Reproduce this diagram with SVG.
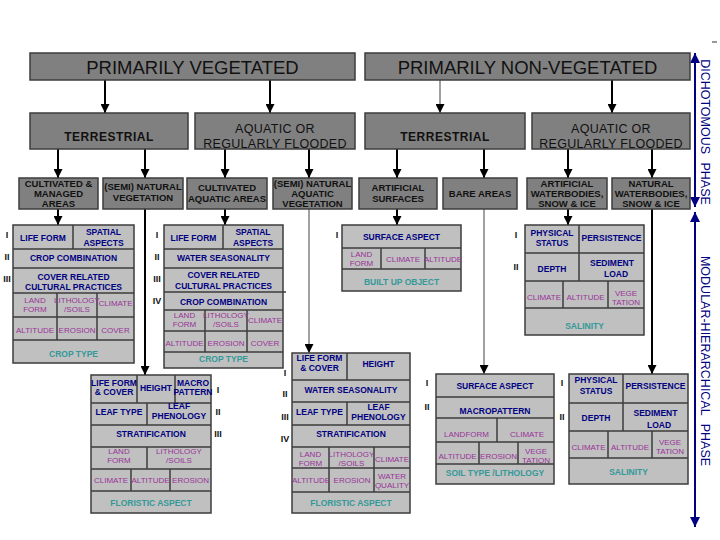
<svg xmlns="http://www.w3.org/2000/svg" width="720" height="540" viewBox="0 0 720 540">
<defs>
<style>
.bx{fill:#808080;stroke:#3c3c3c;stroke-width:1.5}
.md{fill:#c0c0c0;stroke:#3c3c3c;stroke-width:1.5}
.ln{stroke:#3c3c3c;stroke-width:1.5;fill:none}
text{font-family:"Liberation Sans",Arial,sans-serif;text-anchor:middle}
.t1{font-size:18.5px;fill:#111}
.t2{font-size:12px;font-weight:bold;letter-spacing:0.5px;fill:#111}
.t2r{font-size:12.5px;fill:#111;letter-spacing:0.3px}
.t3{font-size:9.5px;font-weight:bold;fill:#111}
.h{font-size:8.5px;font-weight:bold;fill:#000080}
.p{font-size:8px;fill:#993399}
.c{font-size:8.5px;font-weight:bold;fill:#339999}
.n{font-size:9px;font-weight:bold;fill:#111}
.ph{font-size:12.5px;fill:#000080;word-spacing:5px;text-anchor:middle}
.ar{stroke:#000;stroke-width:2;fill:none;marker-end:url(#ah)}
.ag{stroke:#808080;stroke-width:1.5;fill:none;marker-end:url(#ah)}
.bl{stroke:#000080;stroke-width:2;fill:none;marker-start:url(#bh);marker-end:url(#bh)}
</style>
<marker id="ah" viewBox="0 0 10 10" refX="10" refY="5" markerWidth="9" markerHeight="9" markerUnits="userSpaceOnUse" orient="auto"><path d="M0,0 L10,5 L0,10z" fill="#000"/></marker>
<marker id="bh" viewBox="0 0 10 10" refX="10" refY="5" markerWidth="10" markerHeight="10" markerUnits="userSpaceOnUse" orient="auto-start-reverse"><path d="M0,0 L10,5 L0,10z" fill="#000080"/></marker>
</defs>
<rect width="720" height="540" fill="#fff"/>

<g id="connectors">
<line class="ar" x1="105" y1="80" x2="105" y2="113"/>
<line class="ar" x1="270" y1="80" x2="270" y2="113"/>
<line class="ag" x1="440" y1="80" x2="440" y2="113"/>
<line class="ar" x1="612" y1="80" x2="612" y2="113"/>
<line class="ar" x1="58" y1="149" x2="58" y2="178"/>
<line class="ar" x1="145" y1="149" x2="145" y2="178"/>
<line class="ar" x1="225" y1="149" x2="225" y2="178"/>
<line class="ar" x1="309" y1="149" x2="309" y2="178"/>
<line class="ar" x1="397" y1="149" x2="397" y2="178"/>
<line class="ar" x1="484" y1="149" x2="484" y2="178"/>
<line class="ar" x1="568" y1="149" x2="568" y2="178"/>
<line class="ar" x1="652" y1="149" x2="652" y2="178"/>
<line class="ar" x1="58" y1="209" x2="58" y2="225"/>
<line class="ar" x1="145" y1="209" x2="145" y2="375"/>
<line class="ar" x1="225" y1="209" x2="225" y2="225"/>
<line class="ag" x1="309" y1="209" x2="309" y2="353"/>
<line class="ar" x1="397" y1="209" x2="397" y2="225"/>
<line class="ag" x1="484" y1="209" x2="484" y2="374"/>
<line class="ar" x1="568" y1="209" x2="568" y2="225"/>
<line class="ar" x1="652" y1="209" x2="652" y2="374"/>
<line class="bl" x1="695" y1="53" x2="695" y2="207"/>
<line class="bl" x1="695" y1="212" x2="695" y2="527"/>
<line x1="712" y1="42" x2="717" y2="42" stroke="#333" stroke-width="1"/>
</g>

<g id="phase-dichotomous">
<text class="ph" transform="translate(701,132) rotate(90)">DICHOTOMOUS PHASE</text>
</g>
<g id="phase-modular">
<text class="ph" transform="translate(701,361) rotate(90)">MODULAR-HIERARCHICAL PHASE</text>
</g>

<g id="primarily-vegetated">
<rect class="bx" x="30" y="53" width="325" height="27"/>
<text class="t1" x="192.5" y="74">PRIMARILY VEGETATED</text>
</g>
<g id="primarily-non-vegetated">
<rect class="bx" x="365" y="53" width="325" height="27"/>
<text class="t1" x="527.5" y="74">PRIMARILY NON-VEGETATED</text>
</g>

<g id="veg-terrestrial">
<rect class="bx" x="30" y="113" width="158" height="36"/>
<text class="t2" x="109" y="141">TERRESTRIAL</text>
</g>
<g id="veg-aquatic">
<rect class="bx" x="195" y="113" width="160" height="36"/>
<text class="t2r" x="275" y="133">AQUATIC OR</text>
<text class="t2r" x="275" y="148">REGULARLY FLOODED</text>
</g>
<g id="nonveg-terrestrial">
<rect class="bx" x="365" y="113" width="160" height="36"/>
<text class="t2" x="445" y="141">TERRESTRIAL</text>
</g>
<g id="nonveg-aquatic">
<rect class="bx" x="532" y="113" width="158" height="36"/>
<text class="t2r" x="611" y="133">AQUATIC OR</text>
<text class="t2r" x="611" y="148">REGULARLY FLOODED</text>
</g>

<g id="cultivated-managed">
<rect class="bx" x="19" y="178" width="79" height="31"/>
<text class="t3" x="58.5" y="187">CULTIVATED &amp;</text>
<text class="t3" x="58.5" y="197">MANAGED</text>
<text class="t3" x="58.5" y="207">AREAS</text>
</g>
<g id="semi-natural-vegetation">
<rect class="bx" x="103" y="178" width="80" height="31"/>
<text class="t3" x="143" y="190">(SEMI) NATURAL</text>
<text class="t3" x="143" y="201">VEGETATION</text>
</g>
<g id="cultivated-aquatic">
<rect class="bx" x="187" y="178" width="80" height="31"/>
<text class="t3" x="227" y="191">CULTIVATED</text>
<text class="t3" x="227" y="202">AQUATIC AREAS</text>
</g>
<g id="semi-natural-aquatic">
<rect class="bx" x="273" y="178" width="79" height="31"/>
<text class="t3" x="312.5" y="187">(SEMI) NATURAL</text>
<text class="t3" x="312.5" y="197">AQUATIC</text>
<text class="t3" x="312.5" y="207">VEGETATION</text>
</g>
<g id="artificial-surfaces">
<rect class="bx" x="359" y="178" width="78" height="31"/>
<text class="t3" x="398" y="191">ARTIFICIAL</text>
<text class="t3" x="398" y="202">SURFACES</text>
</g>
<g id="bare-areas">
<rect class="bx" x="443" y="178" width="74" height="31"/>
<text class="t3" x="480" y="197">BARE AREAS</text>
</g>
<g id="artificial-waterbodies">
<rect class="bx" x="527" y="178" width="80" height="31"/>
<text class="t3" x="567" y="187">ARTIFICIAL</text>
<text class="t3" x="567" y="197">WATERBODIES,</text>
<text class="t3" x="567" y="207">SNOW &amp; ICE</text>
</g>
<g id="natural-waterbodies">
<rect class="bx" x="612" y="178" width="78" height="31"/>
<text class="t3" x="651" y="187">NATURAL</text>
<text class="t3" x="651" y="197">WATERBODIES,</text>
<text class="t3" x="651" y="207">SNOW &amp; ICE</text>
</g>

<g id="block-cultivated-managed">
<rect class="md" x="13" y="225" width="121" height="138"/>
<path class="ln" d="M13,249H134M13,268H134M13,293H134M13,317H134M13,340H134M73,225V249M57,293V340M97,293V340"/>
<text class="h" x="43" y="241">LIFE FORM</text>
<text class="h" x="103.5" y="235">SPATIAL</text>
<text class="h" x="103.5" y="246">ASPECTS</text>
<text class="h" x="73.5" y="261">CROP COMBINATION</text>
<text class="h" x="73.5" y="280">COVER RELATED</text>
<text class="h" x="73.5" y="290">CULTURAL PRACTICES</text>
<text class="p" x="35" y="303">LAND</text>
<text class="p" x="35" y="312">FORM</text>
<text class="p" x="77" y="303">LITHOLOGY</text>
<text class="p" x="77" y="312">/SOILS</text>
<text class="p" x="115.5" y="306">CLIMATE</text>
<text class="p" x="35" y="333">ALTITUDE</text>
<text class="p" x="77" y="333">EROSION</text>
<text class="p" x="115.5" y="333">COVER</text>
<text class="c" x="73.5" y="357">CROP TYPE</text>
<text class="n" x="7" y="238">I</text>
<text class="n" x="7" y="260">II</text>
<text class="n" x="7" y="282">III</text>
</g>

<g id="block-cultivated-aquatic">
<rect class="md" x="164" y="225" width="119" height="143"/>
<path class="ln" d="M164,249H283M164,268H283M164,292H286M164,310H283M164,331H283M164,352H283M223,225V249M205,310V352M247,310V352"/>
<text class="h" x="193.5" y="241">LIFE FORM</text>
<text class="h" x="253" y="235">SPATIAL</text>
<text class="h" x="253" y="246">ASPECTS</text>
<text class="h" x="223.5" y="261">WATER SEASONALITY</text>
<text class="h" x="223.5" y="278">COVER RELATED</text>
<text class="h" x="223.5" y="289">CULTURAL PRACTICES</text>
<text class="h" x="223.5" y="305">CROP COMBINATION</text>
<text class="p" x="184.5" y="318">LAND</text>
<text class="p" x="184.5" y="327">FORM</text>
<text class="p" x="226" y="318">LITHOLOGY</text>
<text class="p" x="226" y="327">/SOILS</text>
<text class="p" x="265" y="323">CLIMATE</text>
<text class="p" x="184.5" y="346">ALTITUDE</text>
<text class="p" x="226" y="346">EROSION</text>
<text class="p" x="265" y="346">COVER</text>
<text class="c" x="223.5" y="362">CROP TYPE</text>
<text class="n" x="157" y="238">I</text>
<text class="n" x="157" y="260">II</text>
<text class="n" x="157" y="282">III</text>
<text class="n" x="157" y="304">IV</text>
</g>

<g id="block-natural-vegetation">
<rect class="md" x="91" y="375" width="120" height="138"/>
<path class="ln" d="M91,403H211M91,425H211M91,447H211M91,469H211M91,491H211M137,375V403M175,375V403M147,403V425M147,447V469M131,469V491M170,469V491"/>
<text class="h" x="114" y="386">LIFE FORM</text>
<text class="h" x="114" y="395">&amp; COVER</text>
<text class="h" x="156" y="391">HEIGHT</text>
<text class="h" x="193" y="386">MACRO</text>
<text class="h" x="193" y="395">PATTERN</text>
<text class="h" x="119" y="415">LEAF TYPE</text>
<text class="h" x="179" y="409">LEAF</text>
<text class="h" x="179" y="419">PHENOLOGY</text>
<text class="h" x="151" y="437">STRATIFICATION</text>
<text class="p" x="119" y="454">LAND</text>
<text class="p" x="119" y="463">FORM</text>
<text class="p" x="179" y="454">LITHOLOGY</text>
<text class="p" x="179" y="463">/SOILS</text>
<text class="p" x="111" y="483">CLIMATE</text>
<text class="p" x="150.5" y="483">ALTITUDE</text>
<text class="p" x="190.5" y="483">EROSION</text>
<text class="c" x="151" y="506">FLORISTIC ASPECT</text>
<text class="n" x="218" y="393">I</text>
<text class="n" x="218" y="415">II</text>
<text class="n" x="218" y="437">III</text>
</g>

<g id="block-natural-aquatic">
<rect class="md" x="292" y="353" width="118" height="160"/>
<path class="ln" d="M292,380H410M292,402H410M292,425H410M292,447H410M292,468H410M292,492H410M347,353V380M347,402V425M329,447V492M374,447V492"/>
<text class="h" x="319.5" y="361">LIFE FORM</text>
<text class="h" x="319.5" y="371">&amp; COVER</text>
<text class="h" x="378.5" y="367">HEIGHT</text>
<text class="h" x="351" y="393">WATER SEASONALITY</text>
<text class="h" x="319.5" y="415">LEAF TYPE</text>
<text class="h" x="378.5" y="410">LEAF</text>
<text class="h" x="378.5" y="420">PHENOLOGY</text>
<text class="h" x="351" y="437">STRATIFICATION</text>
<text class="p" x="310.5" y="457">LAND</text>
<text class="p" x="310.5" y="466">FORM</text>
<text class="p" x="351.5" y="457">LITHOLOGY</text>
<text class="p" x="351.5" y="466">/SOILS</text>
<text class="p" x="392" y="462">CLIMATE</text>
<text class="p" x="311" y="483">ALTITUDE</text>
<text class="p" x="352" y="483">EROSION</text>
<text class="p" x="392" y="479">WATER</text>
<text class="p" x="392" y="488">QUALITY</text>
<text class="c" x="351" y="506">FLORISTIC ASPECT</text>
<text class="n" x="285" y="376">I</text>
<text class="n" x="285" y="397">II</text>
<text class="n" x="285" y="420">III</text>
<text class="n" x="285" y="442">IV</text>
</g>

<g id="block-artificial-surfaces">
<rect class="md" x="342" y="225" width="119" height="66"/>
<path class="ln" d="M342,248H461M342,269H461M381,248V269M425,248V269"/>
<text class="h" x="401.5" y="240">SURFACE ASPECT</text>
<text class="p" x="361.5" y="257">LAND</text>
<text class="p" x="361.5" y="266">FORM</text>
<text class="p" x="403" y="262">CLIMATE</text>
<text class="p" x="443" y="262">ALTITUDE</text>
<text class="c" x="401.5" y="285">BUILT UP OBJECT</text>
<text class="n" x="337" y="238">I</text>
</g>

<g id="block-bare-areas">
<rect class="md" x="436" y="374" width="118" height="110"/>
<path class="ln" d="M436,397H554M436,418H554M436,442H554M436,464H554M497,418V442M479,442V464M518,442V464"/>
<text class="h" x="495" y="389">SURFACE ASPECT</text>
<text class="h" x="495" y="414">MACROPATTERN</text>
<text class="p" x="466.5" y="437">LANDFORM</text>
<text class="p" x="527" y="437">CLIMATE</text>
<text class="p" x="457.5" y="459">ALTITUDE</text>
<text class="p" x="498.5" y="459">EROSION</text>
<text class="p" x="536" y="454">VEGE</text>
<text class="p" x="536" y="463">TATION</text>
<text class="c" x="495" y="476">SOIL TYPE /LITHOLOGY</text>
<text class="n" x="427" y="386">I</text>
<text class="n" x="427" y="410">II</text>
</g>

<g id="block-artificial-waterbodies">
<rect class="md" x="525" y="225" width="119" height="110"/>
<path class="ln" d="M525,253H644M525,281H644M525,308H644M579,225V281M563,281V308M608,281V308"/>
<text class="h" x="552" y="236">PHYSICAL</text>
<text class="h" x="552" y="246">STATUS</text>
<text class="h" x="611.5" y="241">PERSISTENCE</text>
<text class="h" x="552" y="272">DEPTH</text>
<text class="h" x="612" y="266">SEDIMENT</text>
<text class="h" x="616" y="277">LOAD</text>
<text class="p" x="544" y="300">CLIMATE</text>
<text class="p" x="585.5" y="300">ALTITUDE</text>
<text class="p" x="626" y="296">VEGE</text>
<text class="p" x="626" y="305">TATION</text>
<text class="c" x="584.5" y="329">SALINITY</text>
<text class="n" x="516" y="238">I</text>
<text class="n" x="516" y="270">II</text>
</g>

<g id="block-natural-waterbodies">
<rect class="md" x="569" y="374" width="119" height="110"/>
<path class="ln" d="M569,403H688M569,431H688M569,458H688M623,374V431M608,431V458M652,431V458"/>
<text class="h" x="596" y="383">PHYSICAL</text>
<text class="h" x="596" y="394">STATUS</text>
<text class="h" x="655.5" y="389">PERSISTENCE</text>
<text class="h" x="596" y="421">DEPTH</text>
<text class="h" x="655.5" y="416">SEDIMENT</text>
<text class="h" x="659" y="428">LOAD</text>
<text class="p" x="588.5" y="450">CLIMATE</text>
<text class="p" x="630" y="450">ALTITUDE</text>
<text class="p" x="670" y="445">VEGE</text>
<text class="p" x="670" y="454">TATION</text>
<text class="c" x="628.5" y="475">SALINITY</text>
<text class="n" x="562" y="386">I</text>
<text class="n" x="562" y="420">II</text>
</g>
</svg>
